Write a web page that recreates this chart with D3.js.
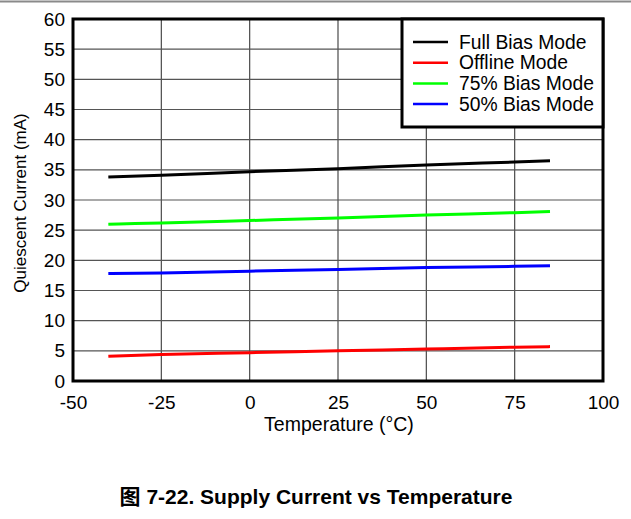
<!DOCTYPE html>
<html>
<head>
<meta charset="utf-8">
<script src="https://cdn.jsdelivr.net/npm/d3@7"></script>
<style>
  html, body { margin: 0; padding: 0; background: #fff; }
  svg { display: block; }
</style>
</head>
<body>
<svg id="chart" width="631" height="519"></svg>
<script>
// Temperature sweep points (°C)
const temperatures = [-40, -25, 0, 25, 50, 75, 85];

// Quiescent current per mode (mA)
const fullBias   = [33.8, 34.1, 34.7, 35.2, 35.8, 36.3, 36.5];
const offline    = [4.1, 4.4, 4.7, 5.0, 5.3, 5.6, 5.7];
const bias75     = [26.0, 26.2, 26.6, 27.0, 27.5, 27.9, 28.1];
const bias50     = [17.8, 17.9, 18.2, 18.5, 18.8, 19.0, 19.1];

const seriesNames  = ["Full Bias Mode", "Offline Mode", "75% Bias Mode", "50% Bias Mode"];
const seriesValues = [fullBias, offline, bias75, bias50];
const seriesColors = ["#000000", "#ff0000", "#00ff00", "#0000ff"];

const xTicks = [-50, -25, 0, 25, 50, 75, 100];
const yTicks = [0, 5, 10, 15, 20, 25, 30, 35, 40, 45, 50, 55, 60];

const svg = d3.select("#chart");
const font = "'Liberation Sans', Arial, sans-serif";

// top rule across the page
svg.append("line")
  .attr("x1", 0).attr("x2", 631).attr("y1", 1.5).attr("y2", 1.5)
  .attr("stroke", "#8a8a8a").attr("stroke-width", 2);

const plotL = 73, plotR = 603, plotT = 19, plotB = 381;
const x = d3.scaleLinear().domain([-50, 100]).range([plotL, plotR]);
const y = d3.scaleLinear().domain([0, 60]).range([plotB, plotT]);

// grid
const grid = svg.append("g");
grid.selectAll("line.v").data(xTicks.slice(1, -1)).join("line")
  .attr("x1", d => x(d)).attr("x2", d => x(d))
  .attr("y1", plotT).attr("y2", plotB)
  .attr("stroke", "#4a4a4a").attr("stroke-width", 1.2);
grid.selectAll("line.h").data(yTicks.slice(1, -1)).join("line")
  .attr("x1", plotL).attr("x2", plotR)
  .attr("y1", d => y(d)).attr("y2", d => y(d))
  .attr("stroke", "#555").attr("stroke-width", 1.2);

// axes (labels only; frame drawn separately); plain hyphen for negatives
const fmt = d => String(d);
const xAxis = d3.axisBottom(x).tickValues(xTicks).tickSize(0).tickPadding(15).tickFormat(fmt);
const yAxis = d3.axisLeft(y).tickValues(yTicks).tickSize(0).tickPadding(8).tickFormat(fmt);

const gx = svg.append("g").attr("transform", `translate(0,${plotB})`).call(xAxis);
const gy = svg.append("g").attr("transform", `translate(${plotL},0)`).call(yAxis);
[gx, gy].forEach(g => {
  g.select(".domain").remove();
  g.selectAll("text").attr("font-family", font).attr("font-size", 19).attr("fill", "#000");
});

// series lines
const line = d3.line()
  .x((d, i) => x(temperatures[i]))
  .y(d => y(d))
  .curve(d3.curveMonotoneX);

svg.append("g").selectAll("path").data(seriesValues).join("path")
  .attr("d", d => line(d))
  .attr("fill", "none")
  .attr("stroke", (d, i) => seriesColors[i])
  .attr("stroke-width", 3);

// plot frame
svg.append("rect")
  .attr("x", plotL).attr("y", plotT)
  .attr("width", plotR - plotL).attr("height", plotB - plotT)
  .attr("fill", "none").attr("stroke", "#000").attr("stroke-width", 3);

// legend
const lg = svg.append("g");
lg.append("rect")
  .attr("x", 402).attr("y", plotT).attr("width", plotR - 402).attr("height", 108)
  .attr("fill", "#fff").attr("stroke", "#000").attr("stroke-width", 3);
seriesNames.forEach((name, i) => {
  const ly = 42 + i * 20.7;
  lg.append("line")
    .attr("x1", 413).attr("x2", 448).attr("y1", ly).attr("y2", ly)
    .attr("stroke", seriesColors[i]).attr("stroke-width", 2.5);
  lg.append("text")
    .attr("x", 459).attr("y", ly).attr("dy", "0.35em")
    .attr("font-family", font).attr("font-size", 19.3)
    .text(name);
});

// axis titles
svg.append("text")
  .attr("x", 339).attr("y", 431)
  .attr("text-anchor", "middle")
  .attr("font-family", font).attr("font-size", 19.5)
  .text("Temperature (°C)");

svg.append("text")
  .attr("transform", `translate(26,${(plotT + plotB) / 2 + 3}) rotate(-90)`)
  .attr("text-anchor", "middle")
  .attr("font-family", font).attr("font-size", 17)
  .text("Quiescent Current (mA)");

// caption
svg.append("text")
  .attr("x", 316).attr("y", 504)
  .attr("text-anchor", "middle")
  .attr("font-family", "'Liberation Sans', 'Noto Sans CJK SC', sans-serif")
  .attr("font-size", 21).attr("font-weight", "bold")
  .text("图 7-22. Supply Current vs Temperature");
</script>
</body>
</html>
